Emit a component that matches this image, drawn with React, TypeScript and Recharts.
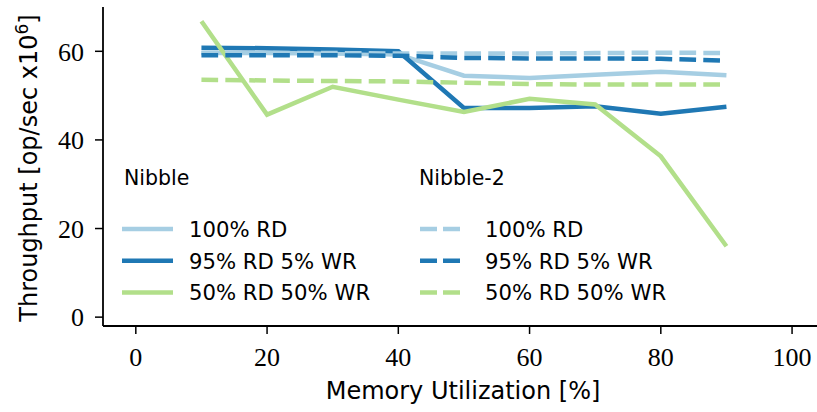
import React from 'react';
import { LineChart, Line, XAxis, YAxis, Customized } from 'recharts';

const utilization = [10, 20, 30, 40, 50, 60, 70, 80, 90];
const nibble100 = [59.6, 59.6, 59.5, 59.3, 54.5, 54.0, 54.7, 55.4, 54.6];
const nibble95 = [60.8, 60.7, 60.4, 60.0, 47.2, 47.2, 47.6, 45.9, 47.5];
const nibble50 = [66.8, 45.7, 52.0, 49.1, 46.3, 49.3, 48.0, 36.3, 16.0];
const nibble2_100 = [59.7, 59.6, 59.6, 59.5, 59.5, 59.5, 59.6, 59.7, 59.6];
const nibble2_95 = [59.1, 59.1, 59.1, 59.0, 58.5, 58.4, 58.4, 58.3, 57.9];
const nibble2_50 = [53.6, 53.4, 53.3, 53.2, 52.9, 52.6, 52.5, 52.5, 52.5];

const xTicks = [0, 20, 40, 60, 80, 100];
const yTicks = [0, 20, 40, 60];
const groupNames = ['Nibble', 'Nibble-2'];
const workloadNames = ['100% RD', '95% RD 5% WR', '50% RD 50% WR'];
const colors = ['#a6cee3', '#1f78b4', '#b2df8a'];

const seriesDefs = [
  { key: 'n100', values: nibble100, group: 0, w: 0 },
  { key: 'n95', values: nibble95, group: 0, w: 1 },
  { key: 'n50', values: nibble50, group: 0, w: 2 },
  { key: 'm100', values: nibble2_100, group: 1, w: 0 },
  { key: 'm95', values: nibble2_95, group: 1, w: 1 },
  { key: 'm50', values: nibble2_50, group: 1, w: 2 },
];

const data = utilization.map((x, i) => {
  const row: Record<string, number> = { x };
  seriesDefs.forEach((s) => {
    row[s.key] = s.values[i];
  });
  return row;
});

const SANS = 'DejaVu Sans';
const SERIF = 'Liberation Serif';
const LW = 4.5;
const DASH = '16.7 7.2';

const LegendAndLabels = () => {
  const cols = [
    { titleX: 124, lineX: 122, textX: 189 },
    { titleX: 419, lineX: 420, textX: 485 },
  ];
  return (
    <g>
      <text x={463} y={399} textAnchor="middle" fontFamily={SANS} fontSize={24} fill="#000">
        Memory Utilization [%]
      </text>
      <text
        x={37}
        y={168}
        transform="rotate(-90, 37, 168)"
        textAnchor="middle"
        fontFamily={SANS}
        fontSize={24}
        fill="#000"
      >
        Throughput [op/sec x10
        <tspan dy={-9} fontSize={17}>6</tspan>
        <tspan dy={9}>]</tspan>
      </text>
      {groupNames.map((g, gi) => (
        <g key={g}>
          <text x={cols[gi].titleX} y={185} fontFamily={SANS} fontSize={20.5} fill="#000">
            {g}
          </text>
          {workloadNames.map((w, wi) => (
            <g key={w}>
              {gi === 0 ? (
                <line
                  x1={cols[gi].lineX}
                  x2={cols[gi].lineX + 51}
                  y1={229 + wi * 31.8}
                  y2={229 + wi * 31.8}
                  stroke={colors[wi]}
                  strokeWidth={LW}
                />
              ) : (
                <line
                  x1={cols[gi].lineX}
                  x2={cols[gi].lineX + 40}
                  y1={229 + wi * 31.8}
                  y2={229 + wi * 31.8}
                  stroke={colors[wi]}
                  strokeWidth={LW}
                  strokeDasharray="17 6"
                />
              )}
              <text x={cols[gi].textX} y={237 + wi * 31.6} fontFamily={SANS} fontSize={21.2} fill="#000">
                {w}
              </text>
            </g>
          ))}
        </g>
      ))}
    </g>
  );
};

export default function App() {
  return (
    <div style={{ position: 'absolute', left: 0, top: 0, width: 817, height: 412, background: '#fff' }}>
      <LineChart width={817} height={412} data={data} margin={{ top: 7, right: 0, bottom: 0, left: 0 }}>
        <XAxis
          type="number"
          dataKey="x"
          domain={[-5, 103.8]}
          ticks={xTicks}
          allowDataOverflow
          height={86}
          tickSize={8}
          tickMargin={14}
          axisLine={{ stroke: '#000', strokeWidth: 1.8 }}
          tickLine={{ stroke: '#000', strokeWidth: 1.5 }}
          tick={{ fontFamily: SERIF, fontSize: 26, fill: '#000' }}
        />
        <YAxis
          type="number"
          domain={[-2, 70]}
          ticks={yTicks}
          allowDataOverflow
          width={103}
          tickSize={8}
          tickMargin={11}
          axisLine={{ stroke: '#000', strokeWidth: 1.8 }}
          tickLine={{ stroke: '#000', strokeWidth: 1.5 }}
          tick={{ fontFamily: SERIF, fontSize: 26, fill: '#000' }}
        />
        {seriesDefs.map((s) => (
          <Line
            key={s.key}
            type="linear"
            dataKey={s.key}
            stroke={colors[s.w]}
            strokeWidth={LW}
            strokeDasharray={s.group === 1 ? DASH : undefined}
            dot={false}
            activeDot={false}
            isAnimationActive={false}
          />
        ))}
        <Customized component={LegendAndLabels} />
      </LineChart>
    </div>
  );
}
